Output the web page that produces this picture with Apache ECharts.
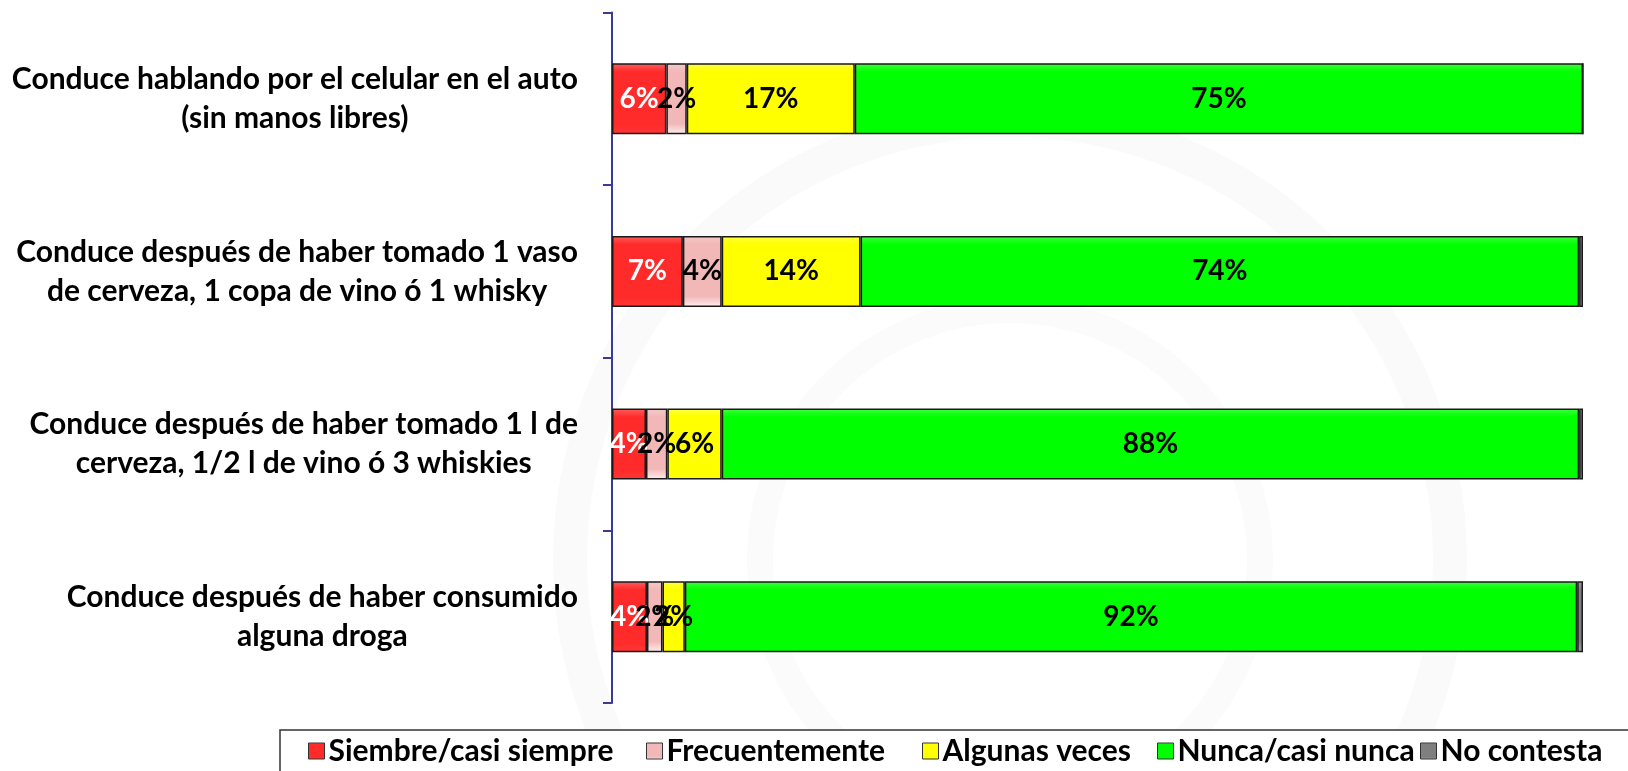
<!DOCTYPE html>
<html>
<head>
<meta charset="utf-8">
<script src="https://cdn.jsdelivr.net/npm/echarts@6/dist/echarts.min.js"></script>
<style>
    html, body { margin: 0; padding: 0; background: #ffffff; }
    #chart { width: 1628px; height: 771px; }
</style>
</head>
<body>
<div id="chart"></div>
<script>
    // categories, top to bottom
    const categories = [
        'Conduce hablando por el celular en el auto\n(sin manos libres)',
        'Conduce después de haber tomado 1 vaso\nde cerveza, 1 copa de vino ó 1 whisky',
        'Conduce después de haber tomado 1 l de\ncerveza, 1/2 l de vino ó 3 whiskies',
        'Conduce después de haber consumido\nalguna droga'
    ];
    const seriesNames = ['Siembre/casi siempre', 'Frecuentemente', 'Algunas veces', 'Nunca/casi nunca', 'No contesta'];
    // percentages
    const siempre = [5.6, 7.3, 3.5, 3.6];
    const frecuente = [2.1, 4.0, 2.2, 1.6];
    const algunas = [17.3, 14.3, 5.6, 2.3];
    const nunca = [75.0, 74.0, 88.3, 91.9];
    const noContesta = [0, 0.4, 0.4, 0.6];

    const values = [siempre, frecuente, algunas, nunca, noContesta];
    const colors = ['#ff2a2a', '#f2b8b8', '#ffff00', '#00ff00', '#7f7f7f'];
    const labelColors = ['#ffffff', '#000000', '#000000', '#000000', '#000000'];
    const legendLeft = [308, 646, 922, 1157, 1420];

    const FONT = 'Lato';

    function bevel(c) {
        return new echarts.graphic.LinearGradient(0, 0, 0, 1, [
            {offset: 0, color: echarts.color.lift(c, 0.25)},
            {offset: 0.12, color: c},
            {offset: 0.85, color: c},
            {offset: 1, color: echarts.color.lift(c, -0.3)}
        ]);
    }

    let chart = echarts.init(document.getElementById('chart'));

    const series = seriesNames.map((name, i) => ({
        name: name,
        type: 'bar',
        stack: 'total',
        barWidth: 71,
        data: values[i],
        itemStyle: {
            color: bevel(colors[i]),
            borderColor: '#1a1a1a',
            borderWidth: 1.5
        },
        label: {
            show: true,
            position: 'inside',
            color: labelColors[i],
            fontFamily: FONT,
            fontWeight: 'bold',
            fontSize: 28,
            // values under 1% carry no label in the original
            formatter: p => p.value >= 1 ? Math.round(p.value) + '%' : ''
        },
        labelLayout: {hideOverlap: false}
    }));

    const legends = seriesNames.map((name, i) => ({
        data: [name],
        left: legendLeft[i],
        top: 736,
        itemWidth: 16,
        itemHeight: 16,
        itemGap: 0,
        padding: 0,
        icon: 'rect',
        selectedMode: false,
        itemStyle: {borderColor: '#333', borderWidth: 1},
        textStyle: {
            fontFamily: FONT,
            fontWeight: 'bold',
            fontSize: 30,
            color: '#000',
            padding: [0, 0, 0, -1]
        }
    }));

    chart.setOption({
        animation: false,
        backgroundColor: '#ffffff',
        grid: {left: 612, right: 45, top: 12.5, bottom: 68},
        legend: legends,
        xAxis: {
            type: 'value',
            min: 0,
            max: 100,
            show: false
        },
        yAxis: {
            type: 'category',
            inverse: true,
            data: categories,
            axisLine: {lineStyle: {color: '#3a3a9a', width: 2}},
            axisTick: {show: true, length: 9, lineStyle: {color: '#3a3a9a', width: 2}},
            axisLabel: {
                margin: 34,
                formatter: v => v.split('\n').map(s => '{c|' + s + '}').join('\n'),
                rich: {
                    c: {
                        align: 'center',
                        fontFamily: FONT,
                        fontWeight: 'bold',
                        fontSize: 30,
                        lineHeight: 39,
                        color: '#000'
                    }
                }
            },
            splitLine: {show: false}
        },
        graphic: [
            // very faint watermark rings in the background
            {
                type: 'circle', z: -10, silent: true,
                shape: {cx: 1010, cy: 560, r: 440},
                style: {fill: null, stroke: '#fafafa', lineWidth: 34}
            },
            {
                type: 'circle', z: -10, silent: true,
                shape: {cx: 1010, cy: 560, r: 250},
                style: {fill: null, stroke: '#fbfbfb', lineWidth: 26}
            },
            {
                type: 'rect',
                z: -1,
                shape: {x: 280, y: 730, width: 1360, height: 45},
                style: {fill: '#ffffff', stroke: '#333333', lineWidth: 1.5}
            }
        ],
        series: series
    });
</script>
</body>
</html>
